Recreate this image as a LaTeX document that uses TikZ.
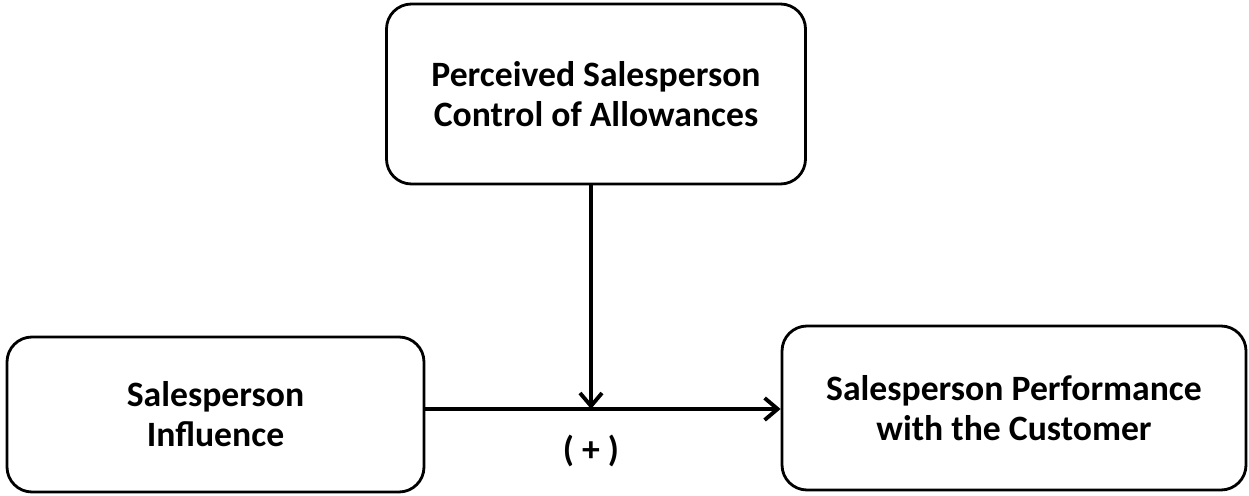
\documentclass[tikz,border=0pt]{standalone}
\usepackage{fontspec}
\setmainfont{Carlito}
\usetikzlibrary{
    arrows.meta,
    positioning
}
\tikzset{
    concept/.style={draw, line width=1.6pt, rounded corners=0.5cm, align=center,
        font=\fontsize{20.3}{22.8}\selectfont\bfseries},
    link/.style={line width=2.2pt, -{Straight Barb[length=0.26cm,width=0.44cm]}},
}

\begin{document}
\begin{tikzpicture}
   \useasboundingbox (0,0) rectangle (24.98,9.9);
   \node[concept, minimum width=8.38cm, minimum height=3.6cm] (ctrl) at (11.92,8.02)
      {Perceived Salesperson\\Control of Allowances};
   \node[concept, minimum width=8.34cm, minimum height=3.1cm] (infl) at (4.31,1.61)
      {Salesperson\\Influence};
   \node[concept, minimum width=9.28cm, minimum height=3.28cm] (perf) at (20.28,1.74)
      {Salesperson Performance\\with the Customer};
   \coordinate (mid) at (11.82,1.72);
   \node[font=\fontsize{20.3}{22}\selectfont\bfseries] (sign) [below=0.4cm of mid] {( + )};
    \draw[link] (infl.east |- mid) -- (perf.west |- mid);
    \draw[link] (ctrl.south -| mid) -- (mid);
\end{tikzpicture}
\end{document}
